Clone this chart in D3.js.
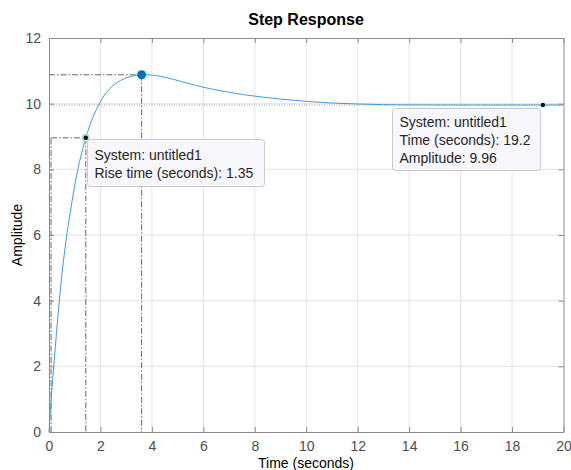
<!DOCTYPE html>
<html>
<head>
<meta charset="utf-8">
<script src="https://cdn.jsdelivr.net/npm/d3@7"></script>
<style>
  html, body { margin: 0; padding: 0; background: #fff; }
  svg { display: block; font-family: "Liberation Sans", Arial, Helvetica, sans-serif; }
</style>
</head>
<body>
<svg id="chart" width="571" height="470"></svg>
<script>
// Step response samples (time in seconds, amplitude)
const timeSec   = [0, 0.08, 0.19, 0.29, 0.39, 0.53, 0.70, 0.90, 1.12, 1.43, 1.69, 1.955, 2.18, 2.57, 3.02, 3.60, 4.20, 4.84, 5.40, 6.00, 6.70, 7.43, 8.00, 9.00, 10.0, 11.0, 12.0, 13.0, 14.0, 16.0, 18.0, 19.2, 20.0];
const amplitude = [0, 0.95, 2.05, 3.00, 3.90, 5.00, 6.05, 7.05, 8.00, 8.96, 9.55, 10.00, 10.29, 10.60, 10.79, 10.88, 10.85, 10.74, 10.62, 10.50, 10.39, 10.29, 10.23, 10.14, 10.07, 10.02, 9.99, 9.97, 9.965, 9.96, 9.96, 9.96, 9.96];

const xTicks = [0, 2, 4, 6, 8, 10, 12, 14, 16, 18, 20];
const yTicks = [0, 2, 4, 6, 8, 10, 12];

// Response characteristics
const steadyState = 9.96;
const peakPoint   = { t: 3.60, a: 10.88 };
const riseStart   = 0.08;
const riseTime    = 1.35;
const riseAmp     = 8.96;
const settlePoint = { t: 19.2, a: 9.96 };

const riseTip   = ["System: untitled1", "Rise time (seconds): " + riseTime];
const settleTip = ["System: untitled1", "Time (seconds): " + settlePoint.t, "Amplitude: " + settlePoint.a];

const svg = d3.select("#chart");
const x = d3.scaleLinear().domain([0, 20]).range([49, 563.5]);
const y = d3.scaleLinear().domain([0, 12]).range([432, 38]);

const axisGray = "#8c8c8c";
const dashDot = "6,2,1.5,2";

// grid
const grid = svg.append("g");
grid.selectAll("line.gx").data(xTicks.slice(1, -1)).join("line")
  .attr("x1", d => x(d)).attr("x2", d => x(d))
  .attr("y1", y(0)).attr("y2", y(12))
  .attr("stroke", "#e3e3e3").attr("stroke-width", 1);
grid.selectAll("line.gy").data(yTicks.slice(1, -1)).join("line")
  .attr("x1", x(0)).attr("x2", x(20))
  .attr("y1", d => y(d)).attr("y2", d => y(d))
  .attr("stroke", "#e3e3e3").attr("stroke-width", 1);

// steady-state level
svg.append("line")
  .attr("x1", x(0)).attr("x2", x(20))
  .attr("y1", y(steadyState)).attr("y2", y(steadyState))
  .attr("stroke", "#9a9a9a").attr("stroke-width", 1)
  .attr("stroke-dasharray", "1,1.5");

// characteristic guide lines (dash-dot)
const riseEnd = riseStart + riseTime;
const guides = [
  [[0, peakPoint.a], [peakPoint.t, peakPoint.a]],
  [[peakPoint.t, peakPoint.a], [peakPoint.t, 0]],
  [[riseStart, 0], [riseStart, riseAmp]],
  [[riseStart, riseAmp], [riseEnd, riseAmp]],
  [[riseEnd, riseAmp], [riseEnd, 0]]
];
svg.append("g").selectAll("line").data(guides).join("line")
  .attr("x1", d => x(d[0][0])).attr("y1", d => y(d[0][1]))
  .attr("x2", d => x(d[1][0])).attr("y2", d => y(d[1][1]))
  .attr("stroke", "#555").attr("stroke-width", 0.9)
  .attr("stroke-dasharray", dashDot);

// response curve
const pts = timeSec.map((t, i) => [t, amplitude[i]]);
svg.append("path")
  .datum(pts)
  .attr("fill", "none")
  .attr("stroke", "#3f9bd8")
  .attr("stroke-width", 1)
  .attr("d", d3.line().x(d => x(d[0])).y(d => y(d[1])).curve(d3.curveCatmullRom.alpha(0.5)));

// axes box with inward ticks
const gx = svg.append("g").attr("transform", `translate(0,${y(0)})`)
  .call(d3.axisBottom(x).tickValues(xTicks).tickSizeInner(-5).tickSizeOuter(0).tickPadding(9));
const gxTop = svg.append("g").attr("transform", `translate(0,${y(12)})`)
  .call(d3.axisTop(x).tickValues(xTicks).tickSizeInner(-5).tickSizeOuter(0).tickFormat(""));
const gy = svg.append("g").attr("transform", `translate(${x(0)},0)`)
  .call(d3.axisLeft(y).tickValues(yTicks).tickSizeInner(-5).tickSizeOuter(0).tickPadding(8));
const gyRight = svg.append("g").attr("transform", `translate(${x(20)},0)`)
  .call(d3.axisRight(y).tickValues(yTicks).tickSizeInner(-5).tickSizeOuter(0).tickFormat(""));
[gx, gxTop, gy, gyRight].forEach(g => {
  g.select(".domain").attr("stroke", axisGray).attr("stroke-width", 1);
  g.selectAll(".tick line").attr("stroke", axisGray);
  g.selectAll(".tick text").attr("fill", "#4d4d4d").style("font-size", "14px")
    .style("font-family", "'Liberation Sans', Arial, Helvetica, sans-serif");
});

// markers
svg.append("circle").attr("cx", x(peakPoint.t)).attr("cy", y(peakPoint.a)).attr("r", 4.5)
  .attr("fill", "#0072BD");
svg.append("circle").attr("cx", x(riseEnd)).attr("cy", y(riseAmp)).attr("r", 3.8)
  .attr("fill", "#cfe6df").attr("stroke", "#9fcfc2").attr("stroke-width", 0.8);
svg.append("circle").attr("cx", x(riseEnd)).attr("cy", y(riseAmp)).attr("r", 2.3)
  .attr("fill", "#111");
svg.append("circle").attr("cx", x(settlePoint.t)).attr("cy", y(settlePoint.a)).attr("r", 2.2)
  .attr("fill", "#111");

// data tips
function dataTip(lines, left, top, width, height, baseline0, step) {
  const g = svg.append("g");
  g.append("rect").attr("x", left).attr("y", top).attr("width", width).attr("height", height)
    .attr("rx", 3).attr("fill", "#f7f7fc").attr("stroke", "#c9c9d3").attr("stroke-width", 1);
  g.selectAll("text").data(lines).join("text")
    .attr("x", left + 7).attr("y", (d, i) => baseline0 + i * step)
    .attr("fill", "#262626").style("font-size", "14px").text(d => d);
}
dataTip(riseTip, 87.5, 139.5, 177, 47, 159.5, 18);
dataTip(settleTip, 392.5, 108.5, 148, 62, 127.3, 17.7);

// title and axis labels
svg.append("text").attr("x", 306).attr("y", 25).attr("text-anchor", "middle")
  .style("font-size", "16px").style("font-weight", "bold").attr("fill", "#000")
  .text("Step Response");
svg.append("text").attr("x", 306).attr("y", 468).attr("text-anchor", "middle")
  .style("font-size", "14px").attr("fill", "#000").text("Time (seconds)");
svg.append("text").attr("transform", "translate(22,235) rotate(-90)").attr("text-anchor", "middle")
  .style("font-size", "14px").attr("fill", "#000").text("Amplitude");
</script>
</body>
</html>
